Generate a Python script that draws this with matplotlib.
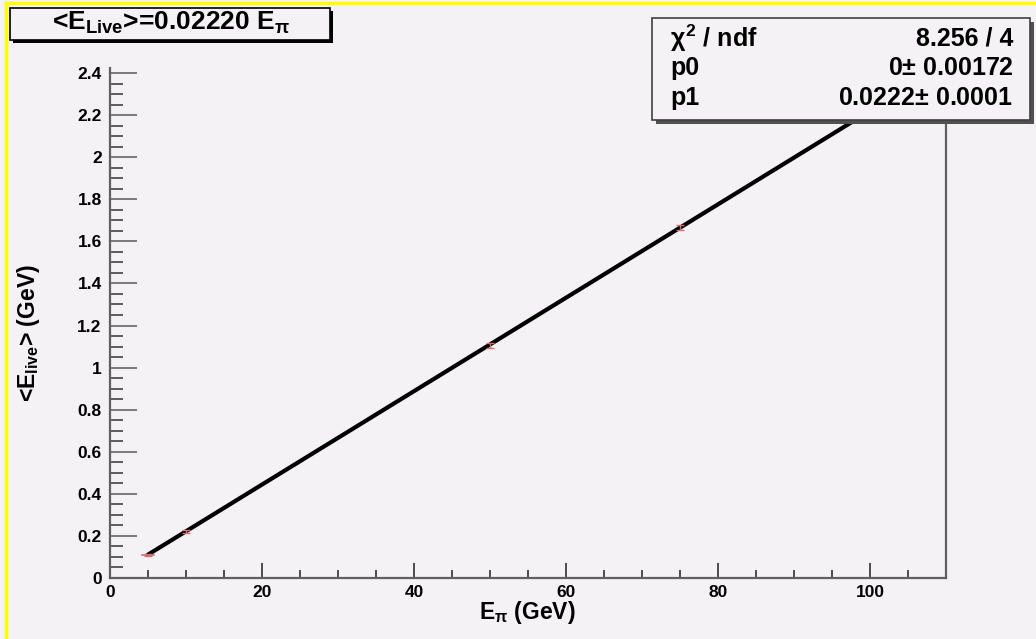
import numpy as np
import matplotlib.pyplot as plt
from matplotlib.patches import Rectangle
from matplotlib.ticker import MultipleLocator

# measured points
E_pi = [5, 10, 50, 75, 100]
E_live = [0.110, 0.221, 1.105, 1.665, 2.212]
E_err = [0.006, 0.007, 0.012, 0.012, 0.013]
p0 = 0.0
p1 = 0.0222
fit_x = [5, 100]

W, H = 1036, 639
BG = "#f5f2f5"

plt.rcParams["font.family"] = ["Liberation Sans", "DejaVu Sans"]
plt.rcParams["font.weight"] = "bold"
plt.rcParams["mathtext.fontset"] = "custom"
plt.rcParams["mathtext.rm"] = "Liberation Sans:bold"
plt.rcParams["mathtext.it"] = "Liberation Sans:bold"
plt.rcParams["mathtext.bf"] = "Liberation Sans:bold"

fig = plt.figure(figsize=(W / 100, H / 100), dpi=100, facecolor=BG)


def fx(x):
    return x / W


def fy(y):
    return 1 - y / H


ax = fig.add_axes([fx(110), fy(578), fx(946) - fx(110), fy(68) - fy(578)])
ax.set_facecolor(BG)

fx_arr = np.array(fit_x)
ax.plot(fx_arr, p0 + p1 * fx_arr, color="black", lw=3, solid_capstyle="round", zorder=3)
ax.errorbar(E_pi, E_live, yerr=E_err, fmt="none", ecolor="#d07070", elinewidth=1,
            capsize=3, capthick=1, zorder=4)
ax.plot([4.2, 5.8], [E_live[0], E_live[0]], color="#d07070", lw=1.2, zorder=4)

ax.set_xlim(0, 110)
ax.set_ylim(0, 2.424)
ax.xaxis.set_major_locator(MultipleLocator(20))
ax.xaxis.set_minor_locator(MultipleLocator(5))
ax.yaxis.set_major_locator(MultipleLocator(0.2))
ax.yaxis.set_minor_locator(MultipleLocator(0.05))
ax.set_yticks(np.arange(0, 2.41, 0.2))
ax.set_yticklabels(["0"] + ["%g" % v for v in np.round(np.arange(0.2, 2.41, 0.2), 1)])

ax.spines["top"].set_visible(False)
for s in ["left", "bottom", "right"]:
    ax.spines[s].set_color("#606060")
    ax.spines[s].set_linewidth(1.6)

ax.tick_params(axis="x", which="major", direction="in", length=11, width=1.1,
               color="#202020", labelsize=12.5, pad=5)
ax.tick_params(axis="x", which="minor", direction="in", length=5.5, width=1.1,
               color="#202020")
ax.tick_params(axis="y", which="major", direction="in", length=19.5, width=1.3,
               color="#707070", labelsize=12.5, pad=6)
ax.tick_params(axis="y", which="minor", direction="in", length=9.5, width=1.3,
               color="#505050")
for lab in ax.get_xticklabels() + ax.get_yticklabels():
    lab.set_fontweight("bold")

fig.text(fx(527), fy(612), r"E$_{\pi}$ (GeV)", ha="center", va="center",
         fontsize=16.5, fontweight="bold")
fig.text(fx(29), fy(333), r"<E$_{\rm live}$> (GeV)", ha="center", va="center",
         fontsize=16.5, fontweight="bold", rotation=90)

# title box
fig.patches.append(Rectangle((fx(13), fy(43)), fx(333) - fx(13), fy(11) - fy(43),
                             transform=fig.transFigure, facecolor="black", zorder=5))
fig.patches.append(Rectangle((fx(10), fy(40)), fx(330) - fx(10), fy(8) - fy(40),
                             transform=fig.transFigure, facecolor=BG, edgecolor="black",
                             lw=1.2, zorder=6))
fig.text(fx(171), fy(23), r"<E$_{\rm Live}$>=0.02220 E$_{\pi}$", ha="center",
         va="center", fontsize=19, fontweight="bold", zorder=7)

# stats box
fig.patches.append(Rectangle((fx(656), fy(124)), fx(1034) - fx(656), fy(22) - fy(124),
                             transform=fig.transFigure, facecolor="#505050", zorder=5))
fig.patches.append(Rectangle((fx(652), fy(120)), fx(1030) - fx(652), fy(18) - fy(120),
                             transform=fig.transFigure, facecolor=BG, edgecolor="#404040",
                             lw=1.2, zorder=6))
rows = [
    (r"$\chi^{2}$ / ndf", "8.256 / 4"),
    ("p0", r"0$\pm$ 0.00172"),
    ("p1", r"0.0222$\pm$ 0.0001"),
]
row_y = [38, 68, 98]
for (lt, rt), yy in zip(rows, row_y):
    fig.text(fx(670), fy(yy), lt, ha="left", va="center", fontsize=18,
             fontweight="bold", zorder=7)
    fig.text(fx(1013), fy(yy), rt, ha="right", va="center", fontsize=18,
             fontweight="bold", zorder=7)

# canvas highlight
fig.add_artist(plt.Line2D([fx(6), fx(6)], [fy(3), 0], color="#ffff00", lw=2.5,
                          transform=fig.transFigure))
fig.add_artist(plt.Line2D([fx(6), 1], [fy(3), fy(3)], color="#ffff00", lw=2.5,
                          transform=fig.transFigure))

fig.savefig("out.png", dpi=100, facecolor=BG)
